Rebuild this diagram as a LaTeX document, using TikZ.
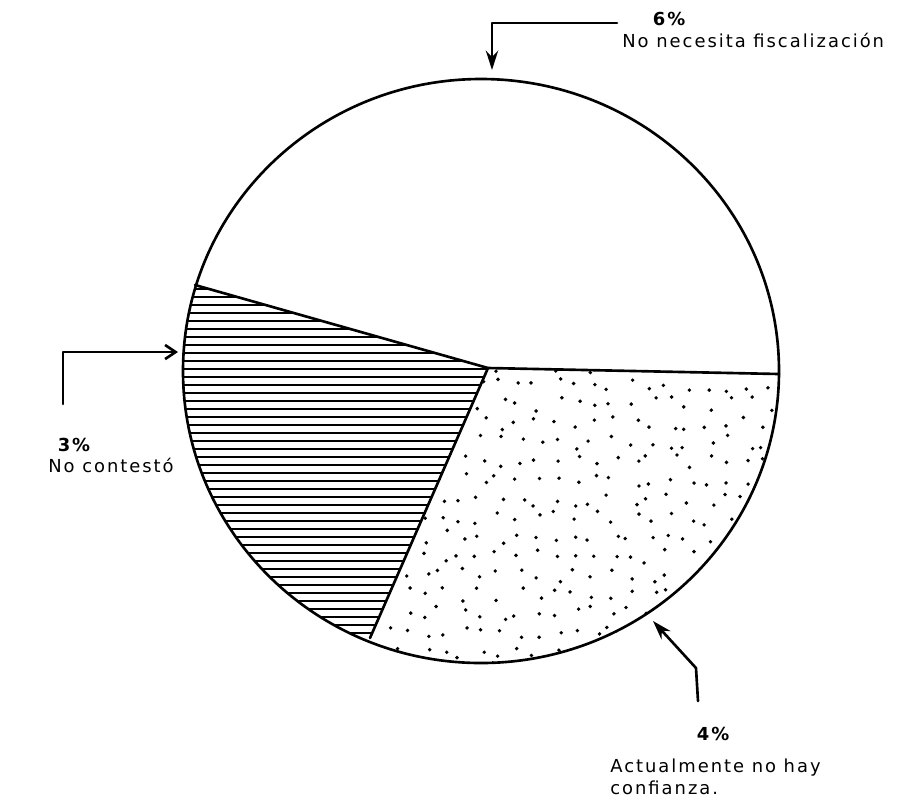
\documentclass[tikz,border=0pt]{standalone}
\usepackage{fontspec}
\setmainfont{DejaVu Sans}[LetterSpace=11]
\usetikzlibrary{arrows.meta}

\tikzset{
  lbl/.style={font=\fontsize{10.2}{12}\selectfont, inner sep=0pt},
  pct/.style={font=\fontsize{10.2}{12}\selectfont\bfseries, inner sep=0pt},
  arr/.style={line width=1.5pt, -{Stealth[length=11pt,width=7pt]}},
  arrb/.style={line width=1.5pt, -{Straight Barb[length=6pt,width=8pt]}},
}

\begin{document}
\begin{tikzpicture}[x=0.02cm, y=-0.02cm, line join=round, line cap=round]
	\def\cx{481}
	\def\cy{371}
	\def\rx{298}
	\def\ry{292}
	\useasboundingbox (0,0) rectangle (909,799);
	\path 	(488,368) coordinate (O)
	(195,285) coordinate (A)
	(370,638) coordinate (B)
	(779,374) coordinate (C);
	% hatched slice
	\begin{scope}
		\clip (\cx,\cy) ellipse [x radius=\rx, y radius=\ry];
		\clip (O) -- (-98,202) -- (-98,908) -- (252,908) -- cycle;
		\foreach \y in {289,297,...,665} \draw[line width=1.1pt] (150,\y) -- (520,\y);
	\end{scope}
	% dotted slice
	\begin{scope}
		\clip (\cx,\cy) ellipse [x radius=\rx, y radius=\ry];
		\clip (O) -- (252,908) -- (1070,908) -- (1070,380) -- cycle;
		\pgfmathsetseed{21}
		\foreach \gx in {366,385,...,790}
			\foreach \gy in {366,385,...,670}
				\fill ({\gx+14*rnd-7},{\gy+14*rnd-7}) circle (1.1pt);
	\end{scope}
	\draw[line width=1.5pt] (\cx,\cy) ellipse [x radius=\rx, y radius=\ry];
	\draw[line width=1.5pt] (A)--(O)--(C) (O)--(B);
	% labels
	\node[pct] (p6) at (669,19) {6\%};
	\node[lbl, anchor=base west] (t6) at (622,47) {No necesita fiscalización};
	\node[pct] (p3) at (74,445) {3\%};
	\node[lbl, anchor=base west] (t3) at (48,472) {No contestó};
	\node[pct] (p4) at (713,734) {4\%};
	\node[lbl, anchor=base west] (t4) at (610,772) {Actualmente no hay};
	\node[lbl, anchor=base west] (t4b) at (610,794) {confianza.};
	% arrows
	\path 	(617,23) coordinate (s6) (492,70) coordinate (e6)
	(63,404) coordinate (s3) (178,352) coordinate (e3)
	(698,701) coordinate (s4) (696,668) coordinate (k4) (653,621) coordinate (e4);
	\draw[arr] (s6) -| (e6);
	\draw[arrb] (s3) |- (e3);
	\draw[arr] (s4)--(k4)--(e4);
\end{tikzpicture}
\end{document}
